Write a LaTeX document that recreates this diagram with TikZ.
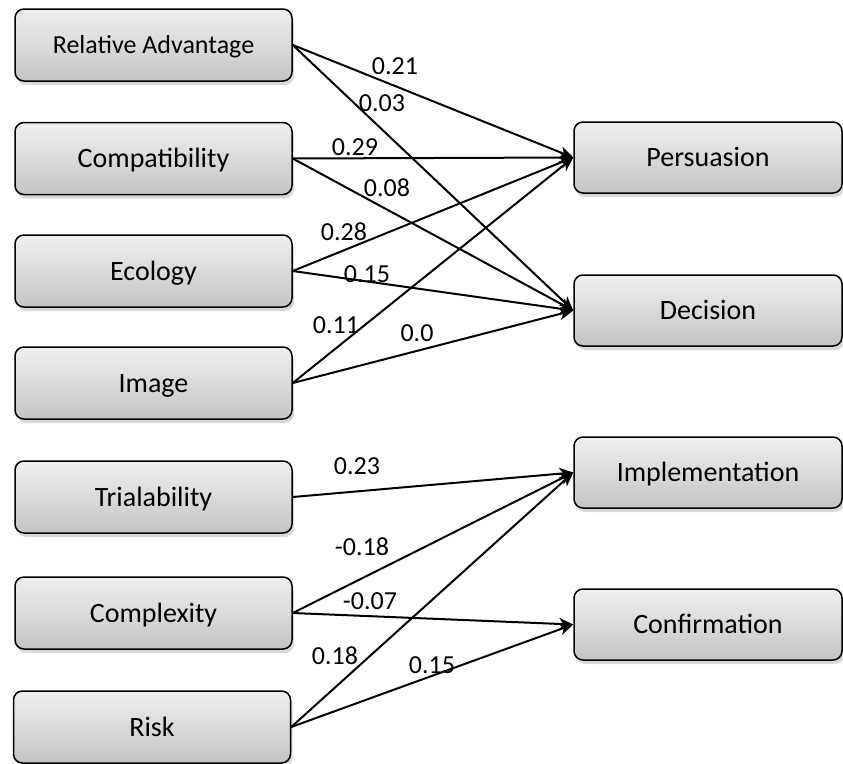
\documentclass[tikz,border=0pt]{standalone}
\usepackage{fontspec}
\setmainfont{Carlito}
\usetikzlibrary{arrows.meta,shadows}
\tikzset{
  box/.style={draw=black, line width=1.5pt, rounded corners=9pt,
    top color=gray!12, bottom color=gray!46,
    minimum width=277pt, minimum height=72pt, inner sep=0pt,
    text height=18pt, text depth=0pt,
    font=\fontsize{28}{32}\selectfont,
    drop shadow={shadow xshift=2pt, shadow yshift=-4pt, opacity=0.3}},
  rbox/.style={box, minimum width=268pt, minimum height=71pt},
  smalltext/.style={text height=16.7pt, font=\fontsize{26}{30}\selectfont},
  lbl/.style={font=\fontsize{26}{30}\selectfont, inner sep=0pt},
  arr/.style={-{Stealth[length=14pt,width=12pt,inset=4pt]}, line width=2pt}
}
\begin{document}
\begin{tikzpicture}[x=1pt,y=-1pt]
\useasboundingbox (0,0) rectangle (843,763);
% left boxes
\node[box,smalltext] (ra)  at (153.5,45)  {Relative Advantage};
\node[box] (com) at (153.5,158.5) {Compatibility};
\node[box] (eco) at (153.5,271) {Ecology};
\node[box] (img) at (153.5,383) {Image};
\node[box] (tri) at (153.5,497) {Trialability};
\node[box] (cpx) at (153.5,613) {Complexity};
\node[box] (rsk) at (152,727) {Risk};
% right boxes
\node[rbox] (per) at (708,157.5) {Persuasion};
\node[rbox] (dec) at (708,310.5) {Decision};
\node[rbox] (imp) at (708,472.5) {Implementation};
\node[rbox] (cnf) at (708,624.5) {Confirmation};
% connectors
\draw[arr] (ra.east) -- (per.west);
\draw[arr] (ra.east) -- (dec.west);
\draw[arr] (com.east) -- (per.west);
\draw[arr] (com.east) -- (dec.west);
\draw[arr] (eco.east) -- (per.west);
\draw[arr] (eco.east) -- (dec.west);
\draw[arr] (img.east) -- (per.west);
\draw[arr] (img.east) -- (dec.west);
\draw[arr] (tri.east) -- (imp.west);
\draw[arr] (cpx.east) -- (imp.west);
\draw[arr] (cpx.east) -- (cnf.west);
\draw[arr] (rsk.east) -- (imp.west);
\draw[arr] (rsk.east) -- (cnf.west);
% labels
\node[lbl] (l1)  at (395,66)  {0.21};
\node[lbl] (l2)  at (382,103) {0.03};
\node[lbl] (l3)  at (355,147) {0.29};
\node[lbl] (l4)  at (387,188) {0.08};
\node[lbl] (l5)  at (344,232) {0.28};
\node[lbl] (l6)  at (367,274) {0.15};
\node[lbl] (l7)  at (336,325) {0.11};
\node[lbl] (l8)  at (417,333) {0.0};
\node[lbl] (l9)  at (357,466) {0.23};
\node[lbl] (l10) at (362,547) {-0.18};
\node[lbl] (l11) at (370,601) {-0.07};
\node[lbl] (l12) at (335,656) {0.18};
\node[lbl] (l13) at (432,665) {0.15};
\end{tikzpicture}
\end{document}
